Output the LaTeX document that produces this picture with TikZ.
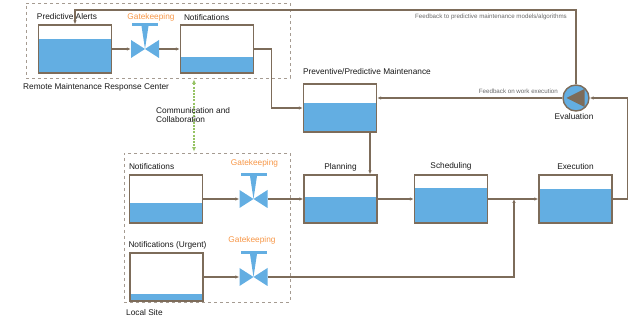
\documentclass[tikz,border=0pt]{standalone}
\usepackage{fontspec}
\setmainfont{Liberation Sans}
\usetikzlibrary{arrows.meta}
\usetikzlibrary{positioning}
\definecolor{tankline}{RGB}{125,108,90}
\definecolor{water}{RGB}{99,174,226}
\definecolor{gateorange}{RGB}{247,150,70}
\definecolor{zonegray}{RGB}{165,155,145}
\definecolor{commgreen}{RGB}{150,195,100}
\definecolor{notegray}{RGB}{105,105,105}
\newcommand{\gatevalve}[1]{\node[inner sep=0pt, minimum width=28pt, minimum height=18pt] (#1) at (0,0) {};
					\fill[water] (-13,-26) rectangle (13,-23);
					\fill[water] (-3.5,-23) -- (3.5,-23) -- (0,0) -- cycle;
					\fill[water] (-14,-9) -- (-14,9) -- (0,0) -- cycle;
					\fill[water] (14,-9) -- (14,9) -- (0,0) -- cycle;}

\begin{document}
\begin{tikzpicture}[x=1pt, y=-1pt, font=\fontsize{8.3}{9.5}\selectfont,
	tank/.style={draw=tankline, line width=1.4pt, fill=white, inner sep=0pt,
		minimum width=73pt, minimum height=48pt,
		path picture={\fill[water] (path picture bounding box.south west) rectangle ([yshift=#1]path picture bounding box.south east);}},
	lbl/.style={inner sep=0pt, text=black!90},
	gate/.style={inner sep=0pt, text=gateorange},
	note/.style={inner sep=0pt, text=notegray, font=\fontsize{6.2}{7}\selectfont},
	zone/.style={draw=zonegray, dashed, line width=0.8pt, inner sep=0pt},
	flow/.style={draw=tankline, line width=1.1pt, -{Latex[length=4pt,width=3.5pt]}},
	comm/.style={draw=commgreen, line width=1.3pt, dash pattern=on 2pt off 1.2pt,
		{Latex[length=4.5pt,width=4pt]}-{Latex[length=4.5pt,width=4pt]}}]

					\useasboundingbox (0,0) rectangle (633,323);

					% sites
					\node[zone, minimum width=264pt, minimum height=75pt] (remote) at (158,40.5) {};
					\node[zone, minimum width=166pt, minimum height=149pt] (local) at (207,227.5) {};
					\node[lbl, anchor=base west] (remote-t) at (23,90) {Remote Maintenance Response Center};
					\node[lbl, anchor=base west] (local-t) at (126,316) {Local Site};

					% tanks
					\node[tank=34] (alerts) at (75,49) {};
					\node[tank=16] (notif) at (217,49) {};
					\node[tank=29] (prev) at (340,108) {};
					\node[tank=20] (lnotif) at (166,199) {};
					\node[tank=26] (plan) at (340.5,199) {};
					\node[tank=35] (sched) at (451,199) {};
					\node[tank=34] (exec) at (575.5,199) {};
					\node[tank=7] (urgent) at (166.5,277) {};

					\node[lbl, anchor=base west] (alerts-t) at ([xshift=-1pt, yshift=5pt]alerts.north west) {Predictive Alerts};
					\node[lbl, anchor=base west] (notif-t) at ([xshift=4pt, yshift=4pt]notif.north west) {Notifications};
					\node[lbl, anchor=base west] (prev-t) at ([yshift=9pt]prev.north west) {Preventive/Predictive Maintenance};
					\node[lbl, anchor=base west] (lnotif-t) at ([yshift=5pt]lnotif.north west) {Notifications};
					\node[lbl, anchor=base] (plan-t) at ([yshift=5pt]plan.north) {Planning};
					\node[lbl, anchor=base] (sched-t) at ([yshift=6pt]sched.north) {Scheduling};
					\node[lbl, anchor=base] (exec-t) at ([yshift=5pt]exec.north) {Execution};
					\node[lbl, anchor=base west] (urgent-t) at ([xshift=-1pt, yshift=5pt]urgent.north west) {Notifications (Urgent)};

					% gatekeeping valves
					\begin{scope}[shift={(145,49)}]
						\gatevalve{v1}
					\end{scope}

					\begin{scope}[shift={(253.5,199)}]
						\gatevalve{v2}
					\end{scope}

					\begin{scope}[shift={(253.5,277)}]
						\gatevalve{v3}
					\end{scope}

					\node[gate, anchor=base] (g1) at (151,20) {Gatekeeping};
					\node[gate, anchor=base] (g2) at (254.5,166) {Gatekeeping};
					\node[gate, anchor=base] (g3) at (252,243) {Gatekeeping};

					% evaluation
					\node[circle, draw=tankline, fill=water, line width=1.4pt, minimum size=26pt, inner sep=0pt] (eval) at (576,98) {};
					\fill[tankline] (566.5,98) -- (584.5,89) -- (584.5,107) -- cycle;
					\node[lbl, anchor=base] (eval-t) at (574,120) {Evaluation};

					% flows
					\draw[flow] (alerts.east) -- (v1.west);
					\draw[flow] (v1.east) -- (notif.west);
					\draw[flow] (notif.east) -- ++(17,0) |- (prev.west);
					\draw[flow] ([xshift=30pt]prev.south) -- ([xshift=30pt]prev.south |- plan.north);
					\draw[flow] (lnotif.east) -- (v2.west);
					\draw[flow] (v2.east) -- (plan.west);
					\draw[flow] (plan.east) -- (sched.west);
					\draw[flow] (sched.east) -- (exec.west);
					\draw[flow] (urgent.east) -- (v3.west);
					\coordinate (merge) at (514,199);
					\draw[flow] (v3.east) -| (merge);
					\draw[flow] (exec.east) -- ++(15,0) |- (eval.east);
					\draw[flow] (eval.west) -- (eval.west -| prev.east);
					\draw[flow] (eval.north) -- (eval.north |- 0,10) -| (alerts.north);

					\node[note, anchor=base east] (fb1) at (567,19) {Feedback to predictive maintenance models/algorithms};
					\node[note, anchor=base east] (fb2) at (558,94) {Feedback on work execution};

					% communication
					\draw[comm] ([xshift=36pt, yshift=-1pt]remote.south) -- ([xshift=-13pt, yshift=1pt]local.north);
					\node[lbl, anchor=north west, align=left] (comm-t) at (156,107) {Communication and\\Collaboration};

\end{tikzpicture}
\end{document}
